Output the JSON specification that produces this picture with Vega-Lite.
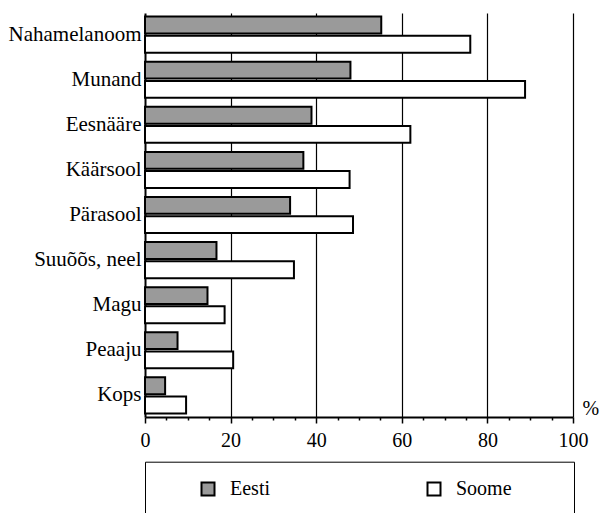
{
  "$schema": "https://vega.github.io/schema/vega-lite/v6.json",
  "autosize": {"type": "none"},
  "width": 428,
  "height": 404,
  "padding": {"left": 145, "top": 13, "right": 27, "bottom": 96},
  "background": "white",
  "data": {
    "values": [
      {"organ": "Nahamelanoom", "country": "Eesti", "value": 55.2},
      {"organ": "Nahamelanoom", "country": "Soome", "value": 76.0},
      {"organ": "Munand", "country": "Eesti", "value": 48.0},
      {"organ": "Munand", "country": "Soome", "value": 88.8},
      {"organ": "Eesnääre", "country": "Eesti", "value": 38.9},
      {"organ": "Eesnääre", "country": "Soome", "value": 62.0},
      {"organ": "Käärsool", "country": "Eesti", "value": 37.0},
      {"organ": "Käärsool", "country": "Soome", "value": 47.8},
      {"organ": "Pärasool", "country": "Eesti", "value": 33.9},
      {"organ": "Pärasool", "country": "Soome", "value": 48.6},
      {"organ": "Suuõõs, neel", "country": "Eesti", "value": 16.7},
      {"organ": "Suuõõs, neel", "country": "Soome", "value": 34.8},
      {"organ": "Magu", "country": "Eesti", "value": 14.6},
      {"organ": "Magu", "country": "Soome", "value": 18.6},
      {"organ": "Peaaju", "country": "Eesti", "value": 7.6},
      {"organ": "Peaaju", "country": "Soome", "value": 20.6},
      {"organ": "Kops", "country": "Eesti", "value": 4.7},
      {"organ": "Kops", "country": "Soome", "value": 9.6}
    ]
  },
  "mark": {"type": "bar", "stroke": "black", "strokeWidth": 2, "cornerRadius": 0},
  "encoding": {
    "y": {
      "field": "organ",
      "type": "nominal",
      "sort": null,
      "scale": {"paddingInner": 0.2, "paddingOuter": 0.08},
      "axis": {
        "title": null,
        "ticks": false,
        "tickSize": 0,
        "labelPadding": 4,
        "labelFont": "Liberation Serif",
        "labelFontSize": 21,
        "labelColor": "black",
        "labelLimit": 300,
        "domainColor": "black",
        "domainWidth": 2,
        "grid": false
      }
    },
    "yOffset": {
      "field": "country",
      "type": "nominal",
      "sort": ["Eesti", "Soome"],
      "scale": {"paddingInner": 0.12, "paddingOuter": 0}
    },
    "x": {
      "field": "value",
      "type": "quantitative",
      "scale": {"domain": [0, 100], "nice": false, "zero": true},
      "axis": {
        "values": [0, 5, 10, 15, 20, 25, 30, 35, 40, 45, 50, 55, 60, 65, 70, 75, 80, 85, 90, 95, 100],
        "labelExpr": "datum.value % 20 === 0 ? datum.label : ''",
        "labelFont": "Liberation Serif",
        "labelFontSize": 20,
        "labelColor": "black",
        "labelPadding": 7,
        "labelFlush": false,
        "labelOverlap": false,
        "tickColor": "black",
        "tickWidth": 1.5,
        "tickSize": {"condition": {"test": "datum.value % 20 === 0", "value": 6}, "value": 3},
        "domainColor": "black",
        "domainWidth": 2,
        "grid": true,
        "gridColor": "black",
        "gridWidth": 1.2,
        "gridOpacity": {"condition": {"test": "datum.value % 20 === 0 && datum.value > 0", "value": 1}, "value": 0},
        "title": "%",
        "titleFont": "Liberation Serif",
        "titleFontSize": 20,
        "titleFontWeight": "normal",
        "titleColor": "black",
        "titleX": 437,
        "titleY": -3,
        "titleAlign": "left",
        "titleBaseline": "alphabetic",
        "titleAnchor": "start"
      }
    },
    "fill": {
      "field": "country",
      "type": "nominal",
      "scale": {"domain": ["Eesti", "Soome"], "range": ["#9a9a9a", "#ffffff"]},
      "legend": {
        "title": null,
        "orient": "none",
        "legendX": 0,
        "legendY": 448.7,
        "direction": "horizontal",
        "columns": 2,
        "strokeColor": "black",
        "padding": 17,
        "symbolType": "square",
        "symbolSize": 169,
        "symbolStrokeColor": "black",
        "symbolStrokeWidth": 2,
        "symbolOffset": 36,
        "labelOffset": 12,
        "columnPadding": 118,
        "labelFont": "Liberation Serif",
        "labelFontSize": 20,
        "labelColor": "black",
        "labelLimit": 400,
        "labelExpr": "datum.label == 'Soome' ? datum.label + '\u00a0\u00a0\u00a0\u00a0\u00a0\u00a0\u00a0\u00a0\u00a0\u200b' : datum.label"
      }
    }
  },
  "config": {
    "view": {"stroke": null},
    "font": "Liberation Serif"
  }
}
